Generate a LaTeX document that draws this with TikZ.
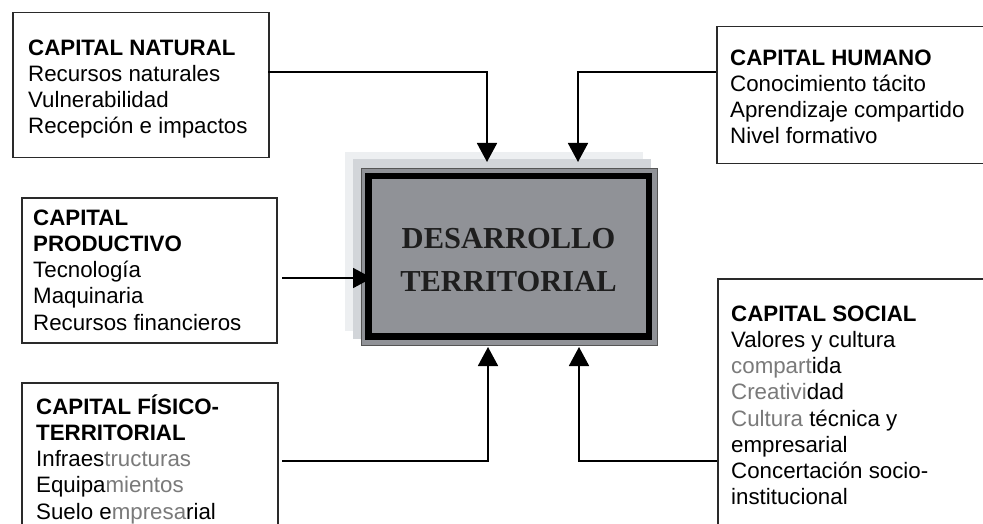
\documentclass[tikz,border=0pt]{standalone}
\usepackage{fontspec}
\setmainfont{Liberation Sans}
\newfontfamily\serifb{Liberation Serif}
\usetikzlibrary{arrows.meta}
\definecolor{txtgray}{HTML}{7A7A7A}
\definecolor{boxline}{HTML}{2A2A2A}
\definecolor{shadowA}{HTML}{EDEFF1}
\definecolor{shadowB}{HTML}{D2D5D9}
\definecolor{dtfill}{HTML}{909297}
\definecolor{dtrim}{HTML}{555555}
\definecolor{dttext}{HTML}{1E1E1E}
\tikzset{
  capbox/.style={draw=boxline, line width=1.5pt, fill=white, anchor=north west, inner sep=0pt},
  captext/.style={anchor=north west, inner sep=0pt, align=left, font=\fontsize{22.3}{26.2}\selectfont, text=black},
  arr/.style={line width=1.8pt, draw=black, -{Triangle[length=19pt,width=20pt]}},
  conn/.style={line width=1.8pt, draw=black}
}
\newcommand{\fr}{\rule{0pt}{21pt}}
\begin{document}
\begin{tikzpicture}[x=1pt,y=-1pt]
\useasboundingbox (0,0) rectangle (983,524);
\fill[white] (0,0) rectangle (983,524);
\clip (0,0) rectangle (983,524);

% boxes
\node[capbox, minimum width=256pt, minimum height=145pt] (nat) at (12,12) {};
\node[capbox, minimum width=300pt, minimum height=137pt] (hum) at (716,26) {};
\node[capbox, minimum width=255pt, minimum height=145pt] (prod) at (21,197) {};
\node[capbox, minimum width=256pt, minimum height=200pt] (fis) at (21,382) {};
\node[capbox, minimum width=300pt, minimum height=300pt] (soc) at (717,278) {};

% texts
\node[captext] (natT) at (28,34) {\fr\textbf{CAPITAL NATURAL}\\Recursos naturales\\Vulnerabilidad\\Recepción e impactos};
\node[captext] (humT) at (730,44) {\fr\textbf{CAPITAL HUMANO}\\Conocimiento tácito\\Aprendizaje compartido\\Nivel formativo};
\node[captext] (prodT) at (33,204) {\fr\textbf{CAPITAL}\\\textbf{PRODUCTIVO}\\Tecnología\\Maquinaria\\Recursos financieros};
\node[captext] (fisT) at (36,393) {\fr\textbf{CAPITAL FÍSICO-}\\\textbf{TERRITORIAL}\\Infraes\textcolor{txtgray}{tructuras}\\Equipa\textcolor{txtgray}{mientos}\\Suelo e\textcolor{txtgray}{mpresa}rial};
\node[captext] (socT) at (731,300) {\fr\textbf{CAPITAL SOCIAL}\\Valores y cultura\\\textcolor{txtgray}{compart}ida\\\textcolor{txtgray}{Creativi}dad\\\textcolor{txtgray}{Cultura} técnica y\\empresarial\\Concertación socio-\\institucional};

% central box with shadows
\fill[shadowA] (345,152) rectangle (643,331);
\fill[shadowB] (353,159) rectangle (651,339);
\node[draw=dtrim, line width=1pt, fill=dtfill, anchor=north west, inner sep=0pt,
      minimum width=296pt, minimum height=177pt] (dt) at (361,168) {};
\draw[black, line width=6.5pt] (368.5,176) rectangle (649,336.5);
\node[font=\serifb\bfseries\fontsize{30.5}{43}\selectfont, text=dttext, align=center, inner sep=0pt]
  (dtT) at (508.5,260) {DESARROLLO\\TERRITORIAL};

% connector points
\coordinate (natOut) at (268,72);
\coordinate (natBend) at (487,72);
\coordinate (natTip) at (487,162);
\coordinate (humOut) at (716,72);
\coordinate (humBend) at (578,72);
\coordinate (humTip) at (578,162);
\coordinate (prodOut) at (282,278);
\coordinate (prodTip) at (372,278);
\coordinate (fisOut) at (282,461);
\coordinate (fisBend) at (488,461);
\coordinate (fisTip) at (488,347);
\coordinate (socOut) at (717,461);
\coordinate (socBend) at (579,461);
\coordinate (socTip) at (579,347);

\draw[arr] (natOut) -- (natBend) -- (natTip);
\draw[arr] (humOut) -- (humBend) -- (humTip);
\draw[arr] (prodOut) -- (prodTip);
\draw[arr] (fisOut) -- (fisBend) -- (fisTip);
\draw[arr] (socOut) -- (socBend) -- (socTip);
\end{tikzpicture}
\end{document}
